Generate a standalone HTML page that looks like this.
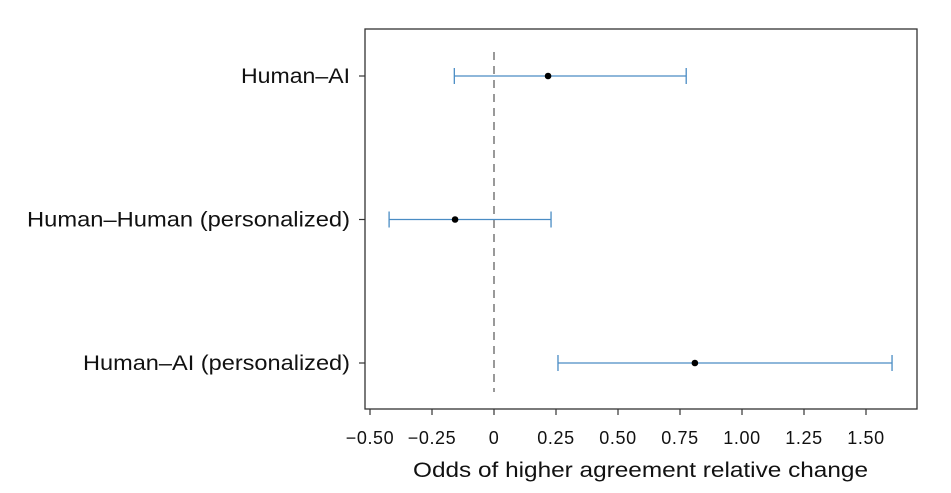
<!DOCTYPE html>
<html><head><meta charset="utf-8"><style>
html,body{margin:0;padding:0;background:#fff;}
svg{display:block;font-family:"Liberation Sans",sans-serif;}
</style></head><body>
<svg id="chart" width="951" height="493"></svg>
<script>
const categories = ["Human–AI", "Human–Human (personalized)", "Human–AI (personalized)"];
const estimates = [0.218, -0.157, 0.81];
const lowers = [-0.16, -0.423, 0.258];
const uppers = [0.775, 0.23, 1.605];
const tickValues = [-0.5, -0.25, 0, 0.25, 0.5, 0.75, 1.0, 1.25, 1.5];
const tickLabels = ["−0.50", "−0.25", "0", "0.25", "0.50", "0.75", "1.00", "1.25", "1.50"];
const labelWidths = [109, 323, 267];

const svg = document.getElementById('chart');
const NS = 'http://www.w3.org/2000/svg';
const L = 365, R = 917, T = 29, B = 409;
const xScale = v => 494 + v * 248;
const yScale = i => 76 + i * 143.5;
function mk(tag, attrs, parent) {
  const e = document.createElementNS(NS, tag);
  for (const k in attrs) e.setAttribute(k, attrs[k]);
  (parent || svg).appendChild(e);
  return e;
}
const frame = mk('rect', {x: L, y: T, width: R - L, height: B - T, fill: 'none', stroke: '#333', 'stroke-width': 1.3});



const ref = mk('line', {x1: xScale(0), x2: xScale(0), y1: 52, y2: 392, stroke: '#999', 'stroke-width': 2, 'stroke-dasharray': '8,6'});



tickValues.forEach((v, i) => {
  const g = mk('g', {});
  
  
  mk('line', {x1: xScale(v), x2: xScale(v), y1: B, y2: B + 6, stroke: '#333', 'stroke-width': 1.2}, g);
  const t = mk('text', {x: xScale(v), y: B + 35, 'text-anchor': 'middle', 'font-size': 18, 'letter-spacing': 0.6, fill: '#111'}, g);
  t.textContent = tickLabels[i];
});

const xt = mk('text', {x: 413, y: 477, 'font-size': 21, fill: '#111', textLength: 455, lengthAdjust: 'spacingAndGlyphs'});


xt.textContent = 'Odds of higher agreement relative change';

categories.forEach((c, i) => {
  const y = yScale(i);
  const g = mk('g', {});
  
  
  mk('line', {x1: L - 6, x2: L, y1: y, y2: y, stroke: '#333', 'stroke-width': 1.2}, g);
  const t = mk('text', {x: 350 - labelWidths[i], y: y + 7, 'font-size': 21, fill: '#111', textLength: labelWidths[i], lengthAdjust: 'spacingAndGlyphs'}, g);
  t.textContent = c;
  const col = '#4a8cc4';
  mk('line', {x1: xScale(lowers[i]), x2: xScale(uppers[i]), y1: y, y2: y, stroke: col, 'stroke-width': 1.3}, g);
  mk('line', {x1: xScale(lowers[i]), x2: xScale(lowers[i]), y1: y - 8, y2: y + 8, stroke: col, 'stroke-width': 1.3}, g);
  mk('line', {x1: xScale(uppers[i]), x2: xScale(uppers[i]), y1: y - 8, y2: y + 8, stroke: col, 'stroke-width': 1.3}, g);
  const p = mk('circle', {cx: xScale(estimates[i]), cy: y, r: 3.3, fill: '#000'}, g);
  
  
});
</script>
</body></html>
